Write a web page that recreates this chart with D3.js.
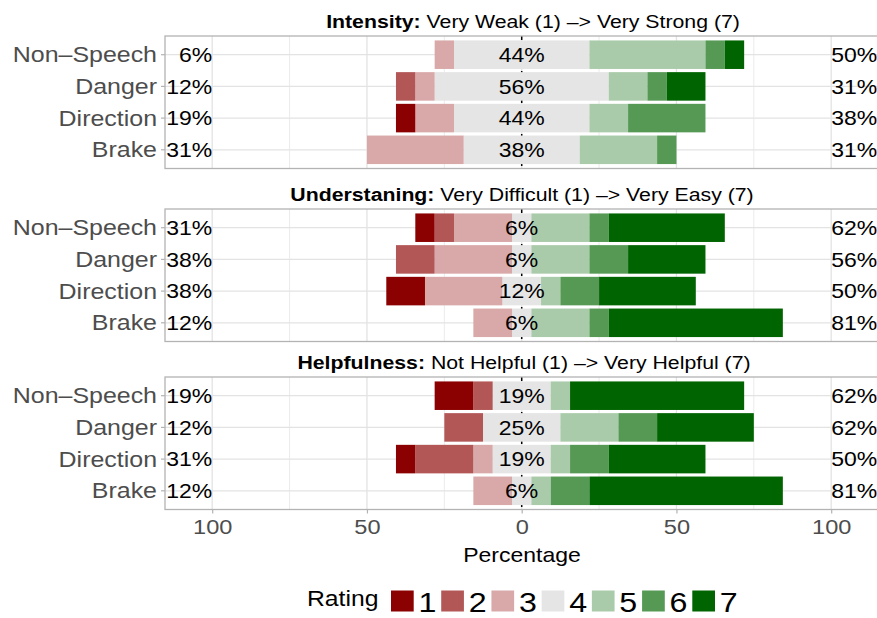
<!DOCTYPE html>
<html>
<head>
<meta charset="utf-8">
<script src="https://cdn.jsdelivr.net/npm/d3@7"></script>
<style>
  html, body { margin: 0; padding: 0; background: #ffffff; }
  svg { display: block; font-family: "Liberation Sans", Arial, Helvetica, sans-serif; }
</style>
</head>
<body>
<svg id="chart" width="877" height="618"></svg>
<script>
// ---------------- data ----------------
const categories = ["Non–Speech", "Danger", "Direction", "Brake"];
const ratings = ["1", "2", "3", "4", "5", "6", "7"];
const ratingColors = ["#8b0000", "#b25656", "#d9a9a9", "#e5e5e5", "#aacbaa", "#559955", "#006400"];

// percentages per category (rows) and rating 1..7 (columns)
const intensity = [
  [0, 0, 6.25, 43.75, 37.5, 6.25, 6.25],
  [0, 6.25, 6.25, 56.25, 12.5, 6.25, 12.5],
  [6.25, 0, 12.5, 43.75, 12.5, 25, 0],
  [0, 0, 31.25, 37.5, 25, 6.25, 0]
];
const understanding = [
  [6.25, 6.25, 18.75, 6.25, 18.75, 6.25, 37.5],
  [0, 12.5, 25, 6.25, 18.75, 12.5, 25],
  [12.5, 0, 25, 12.5, 6.25, 12.5, 31.25],
  [0, 0, 12.5, 6.25, 18.75, 6.25, 56.25]
];
const helpfulness = [
  [12.5, 6.25, 0, 18.75, 6.25, 0, 56.25],
  [0, 12.5, 0, 25, 18.75, 12.5, 31.25],
  [6.25, 18.75, 6.25, 18.75, 6.25, 12.5, 31.25],
  [0, 0, 12.5, 6.25, 6.25, 12.5, 62.5]
];
const titleBold = ["Intensity:", "Understaning:", "Helpfulness:"];
const titleRest = [" Very Weak (1) –> Very Strong (7)", " Very Difficult (1) –> Very Easy (7)", " Not Helpful (1) –> Very Helpful (7)"];
const majorTicks = [-100, -50, 0, 50, 100];
const minorTicks = [-75, -25, 25, 75];
const xLabel = "Percentage";
const legendTitle = "Rating";

// ---------------- layout ----------------
const SX = 1.15; // horizontal text stretch of the original rendering
const svg = d3.select("#chart");
const panelLeft = 165, panelRight = 879;
const panelTops = [36, 209, 377];
const titleDx = [11, 0, 2];
const panelH = 132.5;
const x = d3.scaleLinear().domain([-100, 100]).range([212.2, 831.2]);
const color = d3.scaleOrdinal().domain(ratings).range(ratingColors);

function roundHalfEven(v) {
  const f = Math.floor(v), d = v - f;
  if (Math.abs(d - 0.5) < 1e-9) return (f % 2 === 0) ? f : f + 1;
  return Math.round(v);
}
const pct = v => roundHalfEven(v) + "%";

function stretchText(g, px, py, str, size, anchor, fill, weight) {
  return g.append("text")
    .attr("transform", `translate(${px},${py}) scale(${SX},1)`)
    .attr("text-anchor", anchor)
    .style("font-size", size + "px")
    .style("font-weight", weight || "normal")
    .attr("fill", fill)
    .text(str);
}

const panelsData = [intensity, understanding, helpfulness];

panelsData.forEach((data, pi) => {
  const top = panelTops[pi];
  const g = svg.append("g");
  const y = d3.scaleBand().domain(categories).range([top, top + panelH])
    .paddingInner(0.1).paddingOuter(0.14);

  // background grid
  g.selectAll(".minor").data(minorTicks).join("line")
    .attr("x1", d => x(d)).attr("x2", d => x(d))
    .attr("y1", top).attr("y2", top + panelH)
    .attr("stroke", "#ebebeb").attr("stroke-width", 1);
  g.selectAll(".major").data(majorTicks).join("line")
    .attr("x1", d => x(d)).attr("x2", d => x(d))
    .attr("y1", top).attr("y2", top + panelH)
    .attr("stroke", "#e3e3e3").attr("stroke-width", 1.3);
  g.selectAll(".hgrid").data(categories).join("line")
    .attr("x1", panelLeft).attr("x2", panelRight)
    .attr("y1", d => y(d) + y.bandwidth() / 2).attr("y2", d => y(d) + y.bandwidth() / 2)
    .attr("stroke", "#e3e3e3").attr("stroke-width", 1.3);

  // zero reference line (dashed)
  g.append("line")
    .attr("x1", x(0)).attr("x2", x(0))
    .attr("y1", top).attr("y2", top + panelH)
    .attr("stroke", "#000").attr("stroke-width", 1.5)
    .attr("stroke-dasharray", "4,3");

  // stacked diverging bars
  categories.forEach((cat, ci) => {
    const row = data[ci];
    const segs = [];
    const mid = row[3];
    segs.push({ r: 3, x0: -mid / 2, x1: mid / 2 });
    let pos = -mid / 2;
    for (let r = 2; r >= 0; r--) { segs.push({ r, x0: pos - row[r], x1: pos }); pos -= row[r]; }
    pos = mid / 2;
    for (let r = 4; r <= 6; r++) { segs.push({ r, x0: pos, x1: pos + row[r] }); pos += row[r]; }
    g.selectAll(null).data(segs.filter(s => s.x1 - s.x0 > 0)).join("rect")
      .attr("x", s => x(s.x0))
      .attr("width", s => x(s.x1) - x(s.x0))
      .attr("y", y(cat))
      .attr("height", y.bandwidth())
      .attr("fill", s => color(ratings[s.r]));

    const cy = y(cat) + y.bandwidth() / 2 + 7.3;
    const left = row[0] + row[1] + row[2];
    const right = row[4] + row[5] + row[6];
    stretchText(g, x(-100), cy, pct(left), 20, "end", "#000");
    stretchText(g, x(100), cy, pct(right), 20, "start", "#000");
    stretchText(g, x(0), cy, pct(mid), 20, "middle", "#000");
  });

  // panel border
  g.append("rect")
    .attr("x", panelLeft).attr("y", top)
    .attr("width", panelRight - panelLeft).attr("height", panelH)
    .attr("fill", "none").attr("stroke", "#b3b3b3").attr("stroke-width", 1.3);

  // y axis
  const ya = g.append("g").attr("transform", `translate(${panelLeft},0)`)
    .call(d3.axisLeft(y).tickSize(4).tickPadding(4));
  ya.select(".domain").remove();
  ya.selectAll(".tick line").attr("stroke", "#b3b3b3").attr("stroke-width", 1.2);
  ya.selectAll(".tick text")
    .attr("x", null).attr("dy", null)
    .attr("transform", `translate(-8,7.7) scale(${SX},1)`)
    .style("font-size", "21.7px")
    .style("font-family", "'Liberation Sans', Arial, sans-serif")
    .attr("fill", "#4d4d4d");

  // panel title
  const t = svg.append("text")
    .attr("transform", `translate(${(panelLeft + panelRight) / 2 + titleDx[pi]},${top - 8}) scale(${SX},1)`)
    .attr("text-anchor", "middle")
    .style("font-size", "18.5px")
    .attr("fill", "#000");
  t.append("tspan").style("font-weight", "bold").text(titleBold[pi]);
  t.append("tspan").text(titleRest[pi]);
});

// x axis under last panel
const bottom = panelTops[2] + panelH;
const xa = svg.append("g").attr("transform", `translate(0,${bottom})`)
  .call(d3.axisBottom(x).tickValues(majorTicks).tickSize(4).tickPadding(3)
    .tickFormat(d => Math.abs(d)));
xa.select(".domain").remove();
xa.selectAll(".tick line").attr("stroke", "#b3b3b3").attr("stroke-width", 1.2);
xa.selectAll(".tick text")
  .attr("y", null).attr("dy", null)
  .attr("transform", `translate(0,24) scale(${SX},1)`)
  .style("font-size", "20.5px")
  .style("font-family", "'Liberation Sans', Arial, sans-serif")
  .attr("fill", "#4d4d4d");

stretchText(svg, (panelLeft + panelRight) / 2, 561.5, xLabel, 20, "middle", "#000");

// legend
const lg = svg.append("g");
stretchText(lg, 307, 605.5, legendTitle, 21.5, "start", "#000");
const keyX = d3.scalePoint().domain(ratings).range([391, 692.3]);
ratings.forEach(r => {
  lg.append("rect")
    .attr("x", keyX(r)).attr("y", 590.5)
    .attr("width", 22.7).attr("height", 21)
    .attr("fill", color(r));
  stretchText(lg, keyX(r) + 27.5, 611.5, r, 28, "start", "#000");
});
</script>
</body>
</html>
